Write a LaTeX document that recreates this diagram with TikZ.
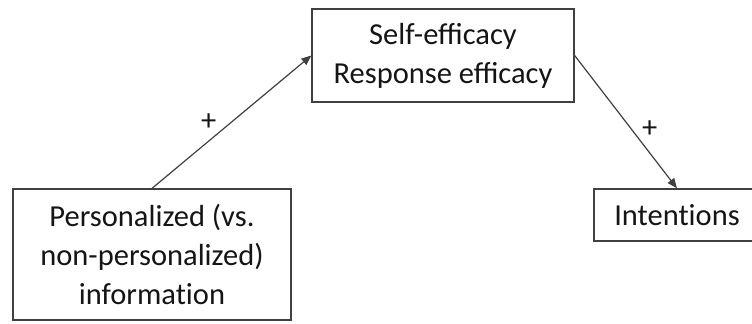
\documentclass[tikz,border=0pt]{standalone}
\usepackage{fontspec}
\setmainfont{Carlito}
\usetikzlibrary{arrows.meta}
\definecolor{edge}{HTML}{404040}
\definecolor{ink}{HTML}{151515}
\begin{document}
\begin{tikzpicture}[x=1bp,y=1bp,
  box/.style={draw=edge, line width=1.3bp, fill=white, text=ink, align=center,
    inner sep=0pt, font=\fontsize{30.5bp}{39bp}\selectfont},
  arr/.style={draw=edge, line width=1.2bp, -{Stealth[length=10bp,width=8bp,inset=0pt]}},
  plus/.style={text=ink, inner sep=0pt, font=\fontsize{30.5bp}{39bp}\selectfont}]
\clip (0,0) rectangle (752,323);
\fill[white] (0,0) rectangle (752,323);
\node[box, minimum width=278bp, minimum height=131bp] (pers) at (152,68.5)
  {Personalized (vs.\\non-personalized)\\informat\kern0pt ion};
\node[box, minimum width=262bp, minimum height=93bp] (eff) at (443,267.5)
  {Self-efficacy\\Response efficacy};
\node[box, minimum width=166bp, minimum height=52bp] (int) at (677,108)
  {Intent\kern0pt ions};
\draw[arr] (pers.north) -- node[plus, pos=0.414, xshift=-9.3bp, yshift=11.3bp] {+} (eff.west);
\draw[arr] (eff.east) -- node[plus, pos=0.621, xshift=11.6bp, yshift=9bp] {+} (int.north);
\end{tikzpicture}
\end{document}
